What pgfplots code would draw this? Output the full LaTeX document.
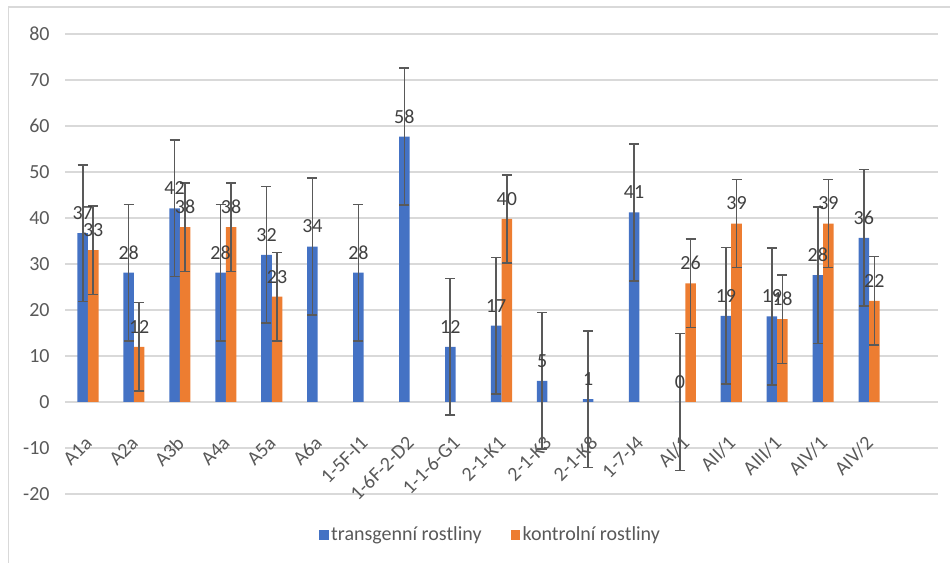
\documentclass[border=0pt]{standalone}
\usepackage{pgfplots}
\pgfplotsset{compat=1.18}
\usepackage{pgfplotstable}
\usepackage{fontspec}
\setmainfont{Carlito}
\definecolor{cblue}{HTML}{4472C4}
\definecolor{corange}{HTML}{ED7D31}
\definecolor{cgrid}{HTML}{D9D9D9}
\definecolor{ctext}{HTML}{595959}
\definecolor{clab}{HTML}{404040}
\definecolor{cerr}{HTML}{595959}

\pgfplotstableread{
x y e
0 36.7 14.85
1 28.1 14.85
2 42.1 14.85
3 28.1 14.85
4 32.0 14.85
5 33.8 14.85
6 28.1 14.85
7 57.7 14.85
8 12.0 14.85
9 16.6 14.85
10 4.6 14.85
11 0.6 14.85
12 41.2 14.85
13 0.0 14.85
14 18.7 14.85
15 18.6 14.85
16 27.6 14.85
17 35.7 14.85
}\transg

\pgfplotstableread{
x y e
0 33.0 9.6
1 12.0 9.6
2 38.0 9.6
3 38.0 9.6
4 22.9 9.6
9 39.8 9.6
13 25.8 9.6
14 38.8 9.6
15 18.0 9.6
16 38.8 9.6
17 22.0 9.6
}\kontr

\begin{document}
\begin{tikzpicture}
\begin{axis}[
  name=ax,
  scale only axis,
  width=654.75pt, height=345pt,
  xmin=-0.5, xmax=18.5,
  ymin=-20, ymax=80,
  ytick={-20,-10,...,80},
  xtick={0,...,17},
  xticklabels={A1a,A2a,A3b,A4a,A5a,A6a,1-5F-I1,1-6F-2-D2,1-1-6-G1,2-1-K1,2-1-K3,2-1-K8,1-7-J4,AI/1,AII/1,AIII/1,AIV/1,AIV/2},
  axis x line*=middle, axis y line*=left,
  hide obscured x ticks=false, hide obscured y ticks=false,
  axis line style={draw=none},
  major tick length=0pt,
  ymajorgrids,
  grid style={cgrid, line width=0.9pt},
  ybar=0pt, bar width=7.9pt,
  /pgf/number format/assume math mode=true,
  tick label style={font=\fontsize{15}{17}\selectfont, text=ctext},
  xticklabel style={yshift=-26pt, xshift=3pt, rotate=45, anchor=east},
  yticklabel style={xshift=-8pt},
  nodes near coords={\pgfmathprintnumber[fixed,precision=0]{\pgfplotspointmeta}},
  every node near coord/.append style={anchor=center, yshift=15pt, font=\fontsize{15}{17}\selectfont, text=clab},
  legend style={at={(0.488,-0.0891)}, anchor=center, legend columns=2, draw=none,
    font=\fontsize{15}{17}\selectfont, text=ctext,
    /tikz/every even column/.append style={column sep=20pt}},
  legend image code/.code={\fill[#1] (0pt,-3.4pt) rectangle (6.8pt,3.4pt);},
  error bars/y dir=both,
  error bars/y explicit,
  error bars/error bar style={cerr, line width=1.2pt},
  error bars/error mark options={rotate=90, cerr, mark size=3.75pt, line width=1.2pt},
]
\addplot[fill=cblue, draw=none] table[x=x, y=y, y error=e] {\transg};
\addlegendentry{transgenní rostliny}
\addplot[fill=corange, draw=none] table[x=x, y=y, y error=e] {\kontr};
\addlegendentry{kontrolní rostliny}
\end{axis}
\draw[cgrid, line width=1.2pt] ([xshift=-42.4pt, yshift=-80pt]ax.south west) -- ([xshift=-42.4pt, yshift=20.25pt]ax.north west) -- ([xshift=30pt, yshift=20.25pt]ax.north east);
\pgfresetboundingbox
\path[use as bounding box] ([xshift=-48.75pt, yshift=-51.75pt]ax.south west) rectangle ([xshift=9pt, yshift=25.5pt]ax.north east);
\end{tikzpicture}
\end{document}
